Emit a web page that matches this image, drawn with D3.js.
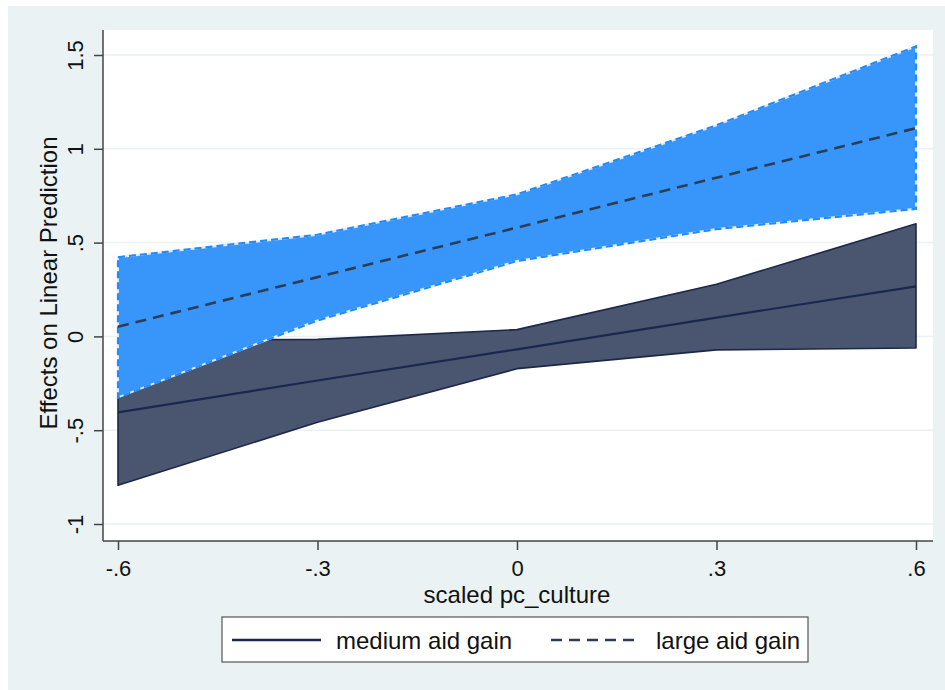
<!DOCTYPE html>
<html>
<head>
<meta charset="utf-8">
<script src="https://cdn.jsdelivr.net/npm/d3@7"></script>
<style>
  html, body { margin: 0; padding: 0; background: #ffffff; }
  svg { display: block; }
  text { font-family: "Liberation Sans", Arial, sans-serif; fill: #111; }
</style>
</head>
<body>
<svg id="chart" width="945" height="690"></svg>
<script>
// Values of pc_culture at which margins were computed
const xValues = [-0.6, -0.3, 0, 0.3, 0.6];

// Medium aid gain: estimate and 95% CI
const mediumEst = [-0.405, -0.235, -0.069, 0.100, 0.267];
const mediumLo  = [-0.794, -0.458, -0.172, -0.072, -0.062];
const mediumHi  = [-0.020, -0.016, 0.036, 0.278, 0.600];

// Large aid gain: estimate and 95% CI
const largeEst = [0.052, 0.316, 0.580, 0.846, 1.110];
const largeLo  = [-0.325, 0.085, 0.402, 0.572, 0.680];
const largeHi  = [0.422, 0.542, 0.757, 1.125, 1.546];

const xTicks = [-0.6, -0.3, 0, 0.3, 0.6];
const xTickLabels = ["-.6", "-.3", "0", ".3", ".6"];
const yTicks = [-1, -0.5, 0, 0.5, 1, 1.5];
const yTickLabels = ["-1", "-.5", "0", ".5", "1", "1.5"];

const seriesNames = ["medium aid gain", "large aid gain"];
const xTitle = "scaled pc_culture";
const yTitle = "Effects on Linear Prediction";

const svg = d3.select("#chart");
const W = 945, H = 690;
const FONT = "Liberation Sans, Arial, sans-serif";

// outer graph region
svg.append("rect").attr("x", 8).attr("y", 6).attr("width", W - 8).attr("height", H - 6)
  .attr("fill", "#eaf2f3");

// plot region
const plot = { left: 103, right: 933, top: 30, bottom: 541 };
svg.append("rect")
  .attr("x", plot.left).attr("y", plot.top)
  .attr("width", plot.right - plot.left).attr("height", plot.bottom - plot.top)
  .attr("fill", "#ffffff");

const x = d3.scaleLinear().domain([-0.6, 0.6]).range([118, 916]);
const y = d3.scaleLinear().domain([-1, 1.5]).range([524, 55]);

// horizontal grid
svg.append("g").selectAll("line").data(yTicks).join("line")
  .attr("x1", plot.left).attr("x2", plot.right)
  .attr("y1", d => y(d)).attr("y2", d => y(d))
  .attr("stroke", "#eaf2f3").attr("stroke-width", 1.5);

const medium = xValues.map((v, i) => ({ x: v, est: mediumEst[i], lo: mediumLo[i], hi: mediumHi[i] }));
const large = xValues.map((v, i) => ({ x: v, est: largeEst[i], lo: largeLo[i], hi: largeHi[i] }));

const area = d3.area().x(d => x(d.x)).y0(d => y(d.lo)).y1(d => y(d.hi));
const line = acc => d3.line().x(d => x(d.x)).y(d => y(acc(d)));

// closed outline of a CI band
function bandOutline(data) {
  const pts = data.map(d => [x(d.x), y(d.hi)])
    .concat(data.slice().reverse().map(d => [x(d.x), y(d.lo)]));
  return "M" + pts.map(p => p.join(",")).join("L") + "Z";
}

// medium aid gain CI band
svg.append("path").datum(medium).attr("d", area)
  .attr("fill", "#4a556f");
svg.append("path").attr("d", bandOutline(medium))
  .attr("fill", "none").attr("stroke", "#1b2848").attr("stroke-width", 1.6)
  .attr("stroke-linejoin", "round");

// large aid gain CI band
svg.append("path").datum(large).attr("d", area)
  .attr("fill", "#3896fa");
svg.append("path").attr("d", bandOutline(large))
  .attr("fill", "none").attr("stroke", "#dfeaf8").attr("stroke-width", 2);
svg.append("path").attr("d", bandOutline(large))
  .attr("fill", "none").attr("stroke", "#1f8bff").attr("stroke-width", 2.2)
  .attr("stroke-dasharray", "7,4");

// estimate lines
svg.append("path").datum(medium).attr("d", line(d => d.est))
  .attr("fill", "none").attr("stroke", "#1a2850").attr("stroke-width", 2.2);
svg.append("path").datum(large).attr("d", line(d => d.est))
  .attr("fill", "none").attr("stroke", "#2c3e55").attr("stroke-width", 2.6)
  .attr("stroke-dasharray", "11,7");

// axes
const axisColor = "#444";
const xAxis = d3.axisBottom(x).tickValues(xTicks).tickSize(9)
  .tickFormat((d, i) => xTickLabels[i]);
const gx = svg.append("g").attr("transform", `translate(0,${plot.bottom})`).call(xAxis);
gx.select(".domain").attr("d", `M${plot.left},0H${plot.right}`).attr("stroke", axisColor).attr("stroke-width", 1.5);
gx.selectAll(".tick line").attr("stroke", axisColor).attr("stroke-width", 1.5);
gx.selectAll(".tick text").attr("font-size", 22).attr("font-family", FONT)
  .attr("fill", "#111").attr("y", 35).attr("dy", null);

const yAxis = d3.axisLeft(y).tickValues(yTicks).tickSize(9)
  .tickFormat((d, i) => yTickLabels[i]);
const gy = svg.append("g").attr("transform", `translate(${plot.left},0)`).call(yAxis);
gy.select(".domain").attr("d", `M0,${plot.top}V${plot.bottom}`).attr("stroke", axisColor).attr("stroke-width", 1.5);
gy.selectAll(".tick line").attr("stroke", axisColor).attr("stroke-width", 1.5);
gy.selectAll(".tick text")
  .attr("font-size", 22).attr("font-family", FONT).attr("fill", "#111")
  .attr("x", null).attr("dy", null)
  .attr("text-anchor", "middle")
  .attr("dominant-baseline", "central")
  .attr("transform", "translate(-28,0) rotate(-90)");

// axis titles
svg.append("text").attr("x", (x(-0.6) + x(0.6)) / 2).attr("y", 602.5)
  .attr("text-anchor", "middle").attr("font-size", 24).text(xTitle);
svg.append("text")
  .attr("transform", `translate(48,283) rotate(-90)`)
  .attr("text-anchor", "middle").attr("dominant-baseline", "central")
  .attr("font-size", 24).text(yTitle);

// legend
const lg = svg.append("g");
lg.append("rect").attr("x", 222).attr("y", 617).attr("width", 586).attr("height", 45)
  .attr("fill", "#ffffff").attr("stroke", "#555").attr("stroke-width", 1.2);
lg.append("line").attr("x1", 232).attr("x2", 321).attr("y1", 640).attr("y2", 640)
  .attr("stroke", "#1a2850").attr("stroke-width", 2.6);
lg.append("text").attr("x", 336).attr("y", 649).attr("font-size", 24).text(seriesNames[0]);
lg.append("line").attr("x1", 551).attr("x2", 641).attr("y1", 640).attr("y2", 640)
  .attr("stroke", "#2c3e55").attr("stroke-width", 2.6).attr("stroke-dasharray", "11,7");
lg.append("text").attr("x", 656).attr("y", 649).attr("font-size", 24).text(seriesNames[1]);
</script>
</body>
</html>
